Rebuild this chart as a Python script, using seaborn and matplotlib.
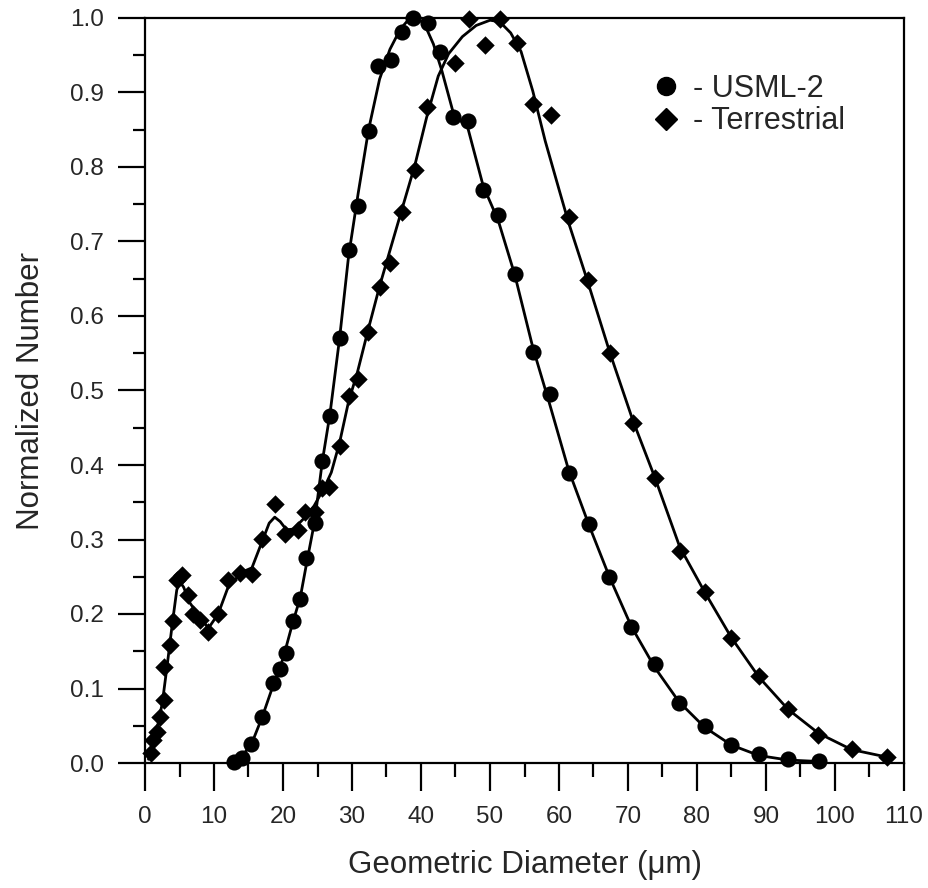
import matplotlib
matplotlib.use("Agg")
import matplotlib.pyplot as plt
from matplotlib.lines import Line2D
from matplotlib.ticker import MultipleLocator
import seaborn as sns
import pandas as pd

# ---- data ----
usml_x = [12.9, 14.0, 15.4, 17.0, 18.6, 19.6, 20.4, 21.4, 22.4, 23.3, 24.6, 25.7, 26.8, 28.2,
          29.5, 30.9, 32.4, 33.7, 35.6, 37.2, 38.9, 41.0, 42.8, 44.7, 46.8, 49.0, 51.2, 53.6,
          56.2, 58.7, 61.5, 64.4, 67.3, 70.5, 73.9, 77.4, 81.1, 85.0, 89.0, 93.2, 97.7]
usml_y = [0.001, 0.007, 0.026, 0.062, 0.108, 0.126, 0.148, 0.190, 0.220, 0.275, 0.322, 0.406,
          0.466, 0.570, 0.689, 0.747, 0.848, 0.935, 0.944, 0.981, 1.000, 0.993, 0.955, 0.867,
          0.862, 0.769, 0.736, 0.657, 0.552, 0.495, 0.389, 0.321, 0.250, 0.182, 0.133, 0.081,
          0.050, 0.024, 0.012, 0.005, 0.003]

terr_x = [0.9, 1.2, 1.7, 2.2, 2.7, 2.8, 3.6, 4.1, 4.7, 5.3, 6.2, 7.0, 8.0, 9.2, 10.6, 12.1,
          13.8, 15.5, 17.0, 18.8, 20.3, 22.2, 23.2, 24.6, 25.6, 26.6, 28.2, 29.5, 30.8, 32.3,
          34.0, 35.5, 37.2, 39.1, 40.8, 44.9, 46.9, 49.3, 51.4, 53.9, 56.3, 58.8, 61.4, 64.2,
          67.4, 70.7, 73.9, 77.5, 81.2, 85.0, 89.0, 93.2, 97.6, 102.4, 107.5]
terr_y = [0.014, 0.031, 0.042, 0.062, 0.085, 0.129, 0.158, 0.190, 0.246, 0.253, 0.225, 0.200,
          0.192, 0.176, 0.200, 0.245, 0.255, 0.254, 0.301, 0.348, 0.308, 0.313, 0.337, 0.337,
          0.369, 0.371, 0.425, 0.492, 0.516, 0.578, 0.639, 0.671, 0.739, 0.796, 0.881, 0.939,
          0.999, 0.964, 0.999, 0.966, 0.885, 0.870, 0.733, 0.648, 0.551, 0.457, 0.383, 0.285,
          0.230, 0.168, 0.117, 0.072, 0.038, 0.019, 0.008]

# fitted curves (knots)
usml_fit_x = [12.5, 14.0, 15.5, 17.0, 18.6, 20.0, 21.4, 22.5, 23.5, 24.6, 25.7, 26.8, 28.2,
              29.5, 30.9, 32.4, 34.0, 35.5, 37.0, 38.3, 39.3, 40.5, 41.8, 43.0, 44.7, 46.8,
              49.0, 51.2, 53.6, 56.2, 58.7, 61.4, 64.4, 67.3, 70.5, 73.9, 77.4, 81.1, 85.0,
              89.0, 93.2, 97.7]
usml_fit_y = [0.000, 0.008, 0.027, 0.062, 0.105, 0.140, 0.188, 0.222, 0.272, 0.325, 0.405,
              0.468, 0.570, 0.680, 0.765, 0.850, 0.918, 0.958, 0.985, 0.999, 1.001, 0.992,
              0.965, 0.930, 0.872, 0.852, 0.775, 0.728, 0.655, 0.558, 0.480, 0.393, 0.318,
              0.250, 0.183, 0.128, 0.082, 0.048, 0.024, 0.010, 0.004, 0.002]

terr_fit_x = [0.5, 1.5, 2.5, 3.2, 4.0, 4.6, 5.0, 5.6, 6.5, 8.0, 9.2, 10.6, 12.0, 14.0, 15.5,
              17.0, 18.0, 18.8, 19.6, 20.5, 21.5, 23.0, 24.5, 26.0, 27.0, 28.2, 29.5, 30.8,
              32.3, 34.0, 35.5, 37.2, 39.1, 40.8, 42.5, 44.0, 46.0, 48.0, 50.0, 51.4, 53.0,
              54.5, 56.2, 58.0, 60.0, 61.4, 64.2, 67.4, 70.7, 73.9, 77.5, 81.2, 85.0, 89.0,
              93.2, 97.6, 102.4, 107.5]
terr_fit_y = [0.005, 0.035, 0.080, 0.130, 0.190, 0.232, 0.244, 0.236, 0.215, 0.195, 0.181,
              0.200, 0.235, 0.256, 0.262, 0.298, 0.322, 0.330, 0.324, 0.313, 0.314, 0.328,
              0.345, 0.370, 0.390, 0.430, 0.485, 0.525, 0.580, 0.640, 0.688, 0.742, 0.802,
              0.866, 0.922, 0.952, 0.975, 0.990, 0.997, 0.995, 0.980, 0.955, 0.902, 0.835,
              0.770, 0.725, 0.645, 0.550, 0.460, 0.383, 0.290, 0.228, 0.168, 0.115, 0.072,
              0.040, 0.018, 0.008]

x_ticks = [0, 10, 20, 30, 40, 50, 60, 70, 80, 90, 100, 110]
y_ticks = [0.0, 0.1, 0.2, 0.3, 0.4, 0.5, 0.6, 0.7, 0.8, 0.9, 1.0]
labels = ["- USML-2", "- Terrestrial"]

# ---- plotting ----
sns.set_style("ticks")
plt.rcParams["font.family"] = ["Liberation Sans", "DejaVu Sans"]

fig = plt.figure(figsize=(9.29, 8.88), dpi=100)
ax = fig.add_axes([145 / 929, 125 / 888, 759 / 929, 745 / 888])

usml_pts = pd.DataFrame({"x": usml_x, "y": usml_y})
terr_pts = pd.DataFrame({"x": terr_x, "y": terr_y})
usml_fit = pd.DataFrame({"x": usml_fit_x, "y": usml_fit_y})
terr_fit = pd.DataFrame({"x": terr_fit_x, "y": terr_fit_y})

for fit in (usml_fit, terr_fit):
    sns.lineplot(data=fit, x="x", y="y", sort=False, estimator=None, color="black",
                 linewidth=2.0, ax=ax, zorder=2)

sns.scatterplot(data=usml_pts, x="x", y="y", marker="o", s=135, color="black",
                edgecolor="black", linewidth=0, ax=ax, zorder=3, legend=False, clip_on=False)
sns.scatterplot(data=terr_pts, x="x", y="y", marker="D", s=88, color="black",
                edgecolor="black", linewidth=0, ax=ax, zorder=3, legend=False, clip_on=False)

ax.set_xlim(0, 110)
ax.set_ylim(0, 1.0)
ax.set_xticks(x_ticks)
ax.set_yticks(y_ticks)
ax.set_xticklabels([str(t) for t in x_ticks])
ax.set_yticklabels([f"{t:.1f}" for t in y_ticks])
ax.xaxis.set_minor_locator(MultipleLocator(5))
ax.yaxis.set_minor_locator(MultipleLocator(0.05))

for sp in ax.spines.values():
    sp.set_visible(True)
    sp.set_color("black")
    sp.set_linewidth(1.6)

ax.tick_params(axis="x", which="major", direction="out", length=20, width=1.6,
               pad=11, labelsize=17.5, color="black")
ax.tick_params(axis="x", which="minor", direction="out", length=10, width=1.6, color="black")
ax.tick_params(axis="y", which="major", direction="out", length=19.5, width=1.6,
               pad=10, labelsize=17.5, color="black")
ax.tick_params(axis="y", which="minor", direction="out", length=9, width=1.6, color="black")

ax.set_xlabel("Geometric Diameter (\u03bcm)", fontsize=22.5, labelpad=16)
ax.set_ylabel("Normalized Number", fontsize=22.5, labelpad=17)

handles = [
    Line2D([], [], linestyle="none", marker="o", markersize=13, color="black"),
    Line2D([], [], linestyle="none", marker="D", markersize=11.5, color="black"),
]
ax.legend(handles, labels, loc="upper left", bbox_to_anchor=(0.666, 0.925), frameon=False,
          fontsize=22, handlelength=1.0, handletextpad=0.4, labelspacing=0.08,
          borderpad=0, borderaxespad=0)

fig.savefig("out.png", dpi=100)
